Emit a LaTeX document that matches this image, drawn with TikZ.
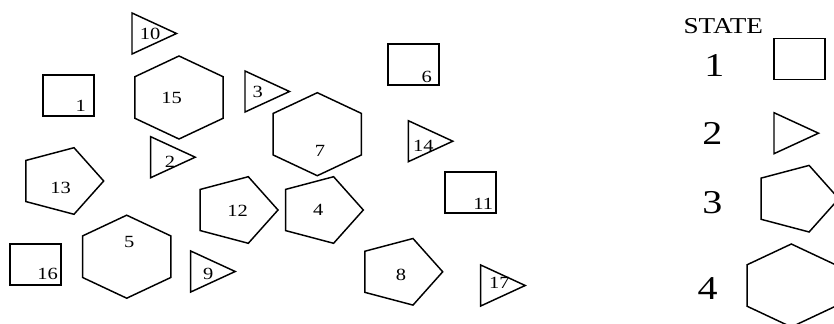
\documentclass[tikz,border=0pt]{standalone}
\usepackage{fontspec}
\setmainfont{Liberation Serif}

\begin{document}
\begin{tikzpicture}[x=0.75pt,y=-0.75pt,
    shp/.style={line width=1.1pt},
    num/.style={font=\fontsize{12.8}{14}\selectfont, xscale=1.2, inner sep=0pt},
    keynum/.style={font=\fontsize{25}{28}\selectfont, xscale=1.2, inner sep=0pt}]
    \useasboundingbox (0,0) rectangle (834,324);
    \clip (0,0) rectangle (834,324);

    % squares (state 1)
    \foreach \n/\px/\py/\lx/\ly in {1/43/75/80.7/106, 6/388/44/426.7/77.3,
        11/445/172/483.3/204.3, 16/10/244/47.7/274.3}{
        \draw[shp] (\px,\py) rectangle ++(51,41);
        \node[num] (n\n) at (\lx,\ly) {\n};
    }

    % triangles (state 2)
    \foreach \n/\px/\py/\lx/\ly in {10/132/13/150/34, 3/245/71/257.7/91.7,
        2/150.7/136.7/170/161.7, 9/190.7/251/208.3/274.3,
        14/408.3/120.7/423.3/145.7, 17/480.7/265/499.3/282.7}{
        \draw[shp] (\px,\py) -- ++(0,41) -- ++(44.5,-20.5) -- cycle;
        \node[num] (n\n) at (\lx,\ly) {\n};
    }

    % pentagons (state 3)
    \foreach \n/\cx/\cy/\lx/\ly in {13/60.7/181/60.7/187.7, 12/235/210/237.7/211,
        4/320.3/210/318.3/210, 8/399.7/271.8/401/275}{
        \draw[shp] (\cx,\cy) +(0:43 and 35) -- +(72:43 and 35) -- +(144:43 and 35)
            -- +(216:43 and 35) -- +(288:43 and 35) -- cycle;
        \node[num] (n\n) at (\lx,\ly) {\n};
    }

    % hexagons (state 4)
    \foreach \n/\cx/\cy/\lx/\ly in {15/179/97.5/171.7/97.7, 5/126.7/256.7/129.3/241.7,
        7/317.3/134.2/320/150.7}{
        \draw[shp] (\cx,\cy) +(30:51 and 41.5) -- +(90:51 and 41.5) -- +(150:51 and 41.5)
            -- +(210:51 and 41.5) -- +(270:51 and 41.5) -- +(330:51 and 41.5) -- cycle;
        \node[num] (n\n) at (\lx,\ly) {\n};
    }

    % key
    \node[font=\fontsize{17}{19}\selectfont, xscale=1.2, inner sep=0pt] (state) at (723.3,25.7) {STATE};
    \node[keynum] (k1) at (714.3,65.7) {1};
    \node[keynum] (k2) at (712.3,133.3) {2};
    \node[keynum] (k3) at (712.3,202.7) {3};
    \node[keynum] (k4) at (707.7,288.3) {4};
    \draw[shp] (774,38.5) rectangle ++(51,41);
    \draw[shp] (774,112.7) -- ++(0,41) -- ++(44.5,-20.5) -- cycle;
    \draw[shp] (795.8,198.7) +(0:43 and 35) -- +(72:43 and 35) -- +(144:43 and 35)
        -- +(216:43 and 35) -- +(288:43 and 35) -- cycle;
    \draw[shp] (791.3,285.5) +(30:51 and 41.5) -- +(90:51 and 41.5) -- +(150:51 and 41.5)
        -- +(210:51 and 41.5) -- +(270:51 and 41.5) -- +(330:51 and 41.5) -- cycle;
\end{tikzpicture}
\end{document}
